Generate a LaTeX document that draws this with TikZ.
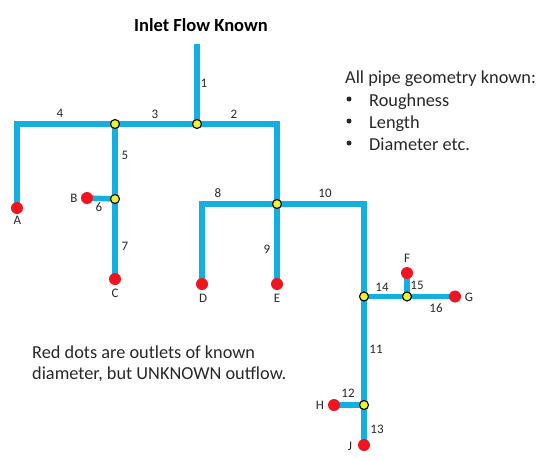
\documentclass[tikz,border=0pt]{standalone}
\usepackage{fontspec}
\setmainfont{Carlito}
\definecolor{pipeblue}{RGB}{20,175,225}
\definecolor{joint}{RGB}{240,240,50}
\definecolor{outred}{RGB}{240,20,30}
\definecolor{txt}{RGB}{40,40,40}
\tikzset{
  pipe/.style={draw=pipeblue,line width=5.5pt,line cap=butt,line join=miter},
  junc/.style={circle,draw=black,fill=joint,line width=1.1pt,minimum size=9pt,inner sep=0pt},
  outlet/.style={circle,fill=outred,minimum size=12pt,inner sep=0pt},
  lab/.style={font=\fontsize{13}{15}\selectfont,text=txt,inner sep=0pt},
  note/.style={font=\fontsize{18.3}{21}\selectfont,text=txt,inner sep=0pt,align=left,anchor=west},
  dot/.style={circle,fill=txt,minimum size=5pt,inner sep=0pt}
}
\begin{document}
\begin{tikzpicture}[x=1pt,y=-1pt]
\useasboundingbox (0,0) rectangle (540,458);
\fill[white] (0,0) rectangle (540,458);
\coordinate (top) at (197,44);
\coordinate (c4) at (17,124);
\coordinate (c2) at (277,124);
\coordinate (c8) at (202,204);
\coordinate (c10) at (364,204);
\coordinate (p1) at (197,124);
\coordinate (p2) at (115,124);
\coordinate (p3) at (115,199);
\coordinate (p4) at (277,204);
\coordinate (p5) at (364,296.5);
\coordinate (p6) at (407,296.5);
\coordinate (p7) at (364,405);
\coordinate (pA) at (17,208);
\coordinate (pB) at (87,198);
\coordinate (pC) at (115,279);
\coordinate (pD) at (202,284);
\coordinate (pE) at (277,284);
\coordinate (pF) at (407,273);
\coordinate (pG) at (455,296.5);
\coordinate (pH) at (334,405);
\coordinate (pJ) at (364,445);
\draw[pipe] (top) -- (p1);
\draw[pipe] (pA) -- (c4) -- (p2) -- (p1) -- (c2) -- (p4);
\draw[pipe] (p2) -- (p3) -- (pC);
\draw[pipe] (pB) -- (p3);
\draw[pipe] (pD) -- (c8) -- (p4) -- (c10) -- (p5) -- (p7) -- (pJ);
\draw[pipe] (p4) -- (pE);
\draw[pipe] (p5) -- (p6) -- (pG);
\draw[pipe] (p6) -- (pF);
\draw[pipe] (pH) -- (p7);
\node[junc] (j1) at (p1) {};
\node[junc] (j2) at (p2) {};
\node[junc] (j3) at (p3) {};
\node[junc] (j4) at (p4) {};
\node[junc] (j5) at (p5) {};
\node[junc] (j6) at (p6) {};
\node[junc] (j7) at (p7) {};
\node[outlet] (oA) at (pA) {};
\node[outlet] (oB) at (pB) {};
\node[outlet] (oC) at (pC) {};
\node[outlet] (oD) at (pD) {};
\node[outlet] (oE) at (pE) {};
\node[outlet] (oF) at (pF) {};
\node[outlet] (oG) at (pG) {};
\node[outlet] (oH) at (pH) {};
\node[outlet] (oJ) at (pJ) {};
\node[lab] (lA) at (17.5,220) {A};
\node[lab] (lB) at (74,198) {B};
\node[lab] (lC) at (115,293) {C};
\node[lab] (lD) at (203,298) {D};
\node[lab] (lE) at (277,298) {E};
\node[lab] (lF) at (407,258) {F};
\node[lab] (lG) at (469,297) {G};
\node[lab] (lH) at (320,405) {H};
\node[lab] (lJ) at (350,446) {J};
\node[lab] (n1) at (204,83) {1};
\node[lab] (n2) at (234,114) {2};
\node[lab] (n3) at (155,114) {3};
\node[lab] (n4) at (60,113) {4};
\node[lab] (n5) at (125,155) {5};
\node[lab] (n6) at (99,207) {6};
\node[lab] (n7) at (125,246) {7};
\node[lab] (n8) at (218,193) {8};
\node[lab] (n9) at (267,249) {9};
\node[lab] (n10) at (325,193) {10};
\node[lab] (n11) at (376,349) {11};
\node[lab] (n12) at (348,393) {12};
\node[lab] (n13) at (377,429) {13};
\node[lab] (n14) at (382,287) {14};
\node[lab] (n15) at (417,285) {15};
\node[lab] (n16) at (436,308) {16};
\node[font=\fontsize{18.5}{20}\selectfont\bfseries,inner sep=0pt] (title) at (201,25) {Inlet Flow Known};
\node[note] (geo) at (345,79) {All pipe geometry known:};
\node[dot] (g1) at (349,99) {};
\node[note] (g1t) at (369,102) {Roughness};
\node[dot] (g2) at (349,121) {};
\node[note] (g2t) at (369,124) {Length};
\node[dot] (g3) at (349,143) {};
\node[note] (g3t) at (369,144) {Diameter etc.};
\node[note] (red) at (32,364) {Red dots are outlets of known\\diameter, but UNKNOWN outflow.};
\end{tikzpicture}
\end{document}
